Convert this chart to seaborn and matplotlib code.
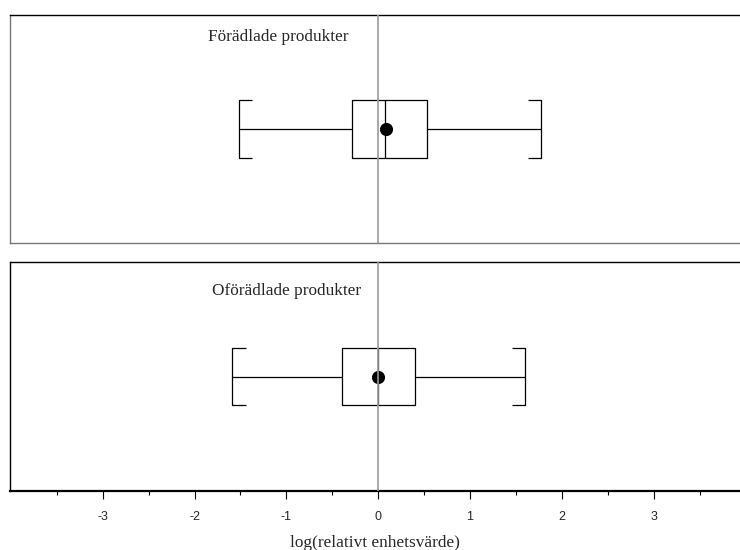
import numpy as np
import pandas as pd
import matplotlib.pyplot as plt
import seaborn as sns
from matplotlib.ticker import FixedLocator

# summary values (log relative unit value)
groups = ['Förädlade produkter', 'Oförädlade produkter']
whisker_low = [-1.52, -1.59]
q1 = [-0.285, -0.394]
medians = [0.074, 0.0]
q3 = [0.536, 0.405]
whisker_high = [1.773, 1.603]
means = [0.08, 0.0]

tick_values = [-3, -2, -1, 0, 1, 2, 3]
tick_labels = ['-3', '-2', '-1', '0', '1', '2', '3']
minor_ticks = [-3.5, -2.5, -1.5, -0.5, 0.5, 1.5, 2.5, 3.5]
x_label = 'log(relativt enhetsvärde)'

sns.set_style('white')
plt.rcParams['font.family'] = ['Liberation Serif', 'DejaVu Serif']

fig = plt.figure(figsize=(7.4, 5.5), dpi=100)
ax_top = fig.add_axes([0.0135, 0.558, 0.9865, 0.415])
ax_bot = fig.add_axes([0.0135, 0.107, 0.9865, 0.4165], sharex=ax_top)

box_h = 0.5   # box thickness in y units (ylim is -1..1)
bracket = 0.145  # length of the little inward bracket ends

for i, ax in enumerate([ax_top, ax_bot]):
    stats = [{
        'whislo': whisker_low[i], 'q1': q1[i], 'med': medians[i],
        'q3': q3[i], 'whishi': whisker_high[i], 'fliers': [],
    }]
    ax.bxp(stats, positions=[0], vert=False, widths=box_h, capwidths=box_h,
           showfliers=False, showmeans=False,
           boxprops=dict(color='black', lw=0.9),
           whiskerprops=dict(color='black', lw=0.9),
           capprops=dict(color='black', lw=0.9),
           medianprops=dict(color='black', lw=0.9))

    # bracket ends on the caps
    for y in [-box_h / 2, box_h / 2]:
        ax.hlines(y, whisker_low[i], whisker_low[i] + bracket, color='black', lw=0.9)
        ax.hlines(y, whisker_high[i] - bracket, whisker_high[i], color='black', lw=0.9)

    # mean dot
    df = pd.DataFrame({'mean': [means[i]], 'pos': [0]})
    sns.scatterplot(data=df, x='mean', y='pos', ax=ax, color='black', s=90,
                    edgecolor='black', linewidth=0, zorder=4)

    ax.axvline(0, color='#999999', lw=1.2, zorder=5)

    ax.set_ylim(-1, 1)
    ax.set_xlim(-4.01, 3.94)
    ax.set_ylabel('')
    ax.set_xlabel('')
    ax.set_yticks([])
    ax.spines['right'].set_visible(False)
    for s in ['left', 'top', 'bottom']:
        ax.spines[s].set_color('black')
        ax.spines[s].set_linewidth(1.0)

    ax.text(0.271 if i == 0 else 0.277, 0.905 if i == 0 else 0.875, groups[i],
            transform=ax.transAxes, ha='left', va='center', fontsize=12.4)

# top panel: no ticks, lighter lower/left frame
ax_top.tick_params(axis='x', which='both', bottom=False, labelbottom=False)
ax_top.spines['bottom'].set_color('#777777')
ax_top.spines['left'].set_color('#777777')
ax_bot.spines['bottom'].set_linewidth(1.6)

# bottom panel ticks
ax_bot.set_xticks(tick_values)
ax_bot.set_xticklabels(tick_labels, family=['Liberation Sans', 'DejaVu Sans'], fontsize=9)
ax_bot.xaxis.set_minor_locator(FixedLocator(minor_ticks))
ax_bot.tick_params(axis='x', which='major', direction='out', length=6, width=0.8,
                   color='black', pad=8, bottom=True)
ax_bot.tick_params(axis='x', which='minor', direction='out', length=3, width=0.8,
                   color='black', bottom=True)
ax_bot.set_xlabel(x_label, fontsize=12.4, labelpad=9)

fig.savefig('out.png', dpi=100)
